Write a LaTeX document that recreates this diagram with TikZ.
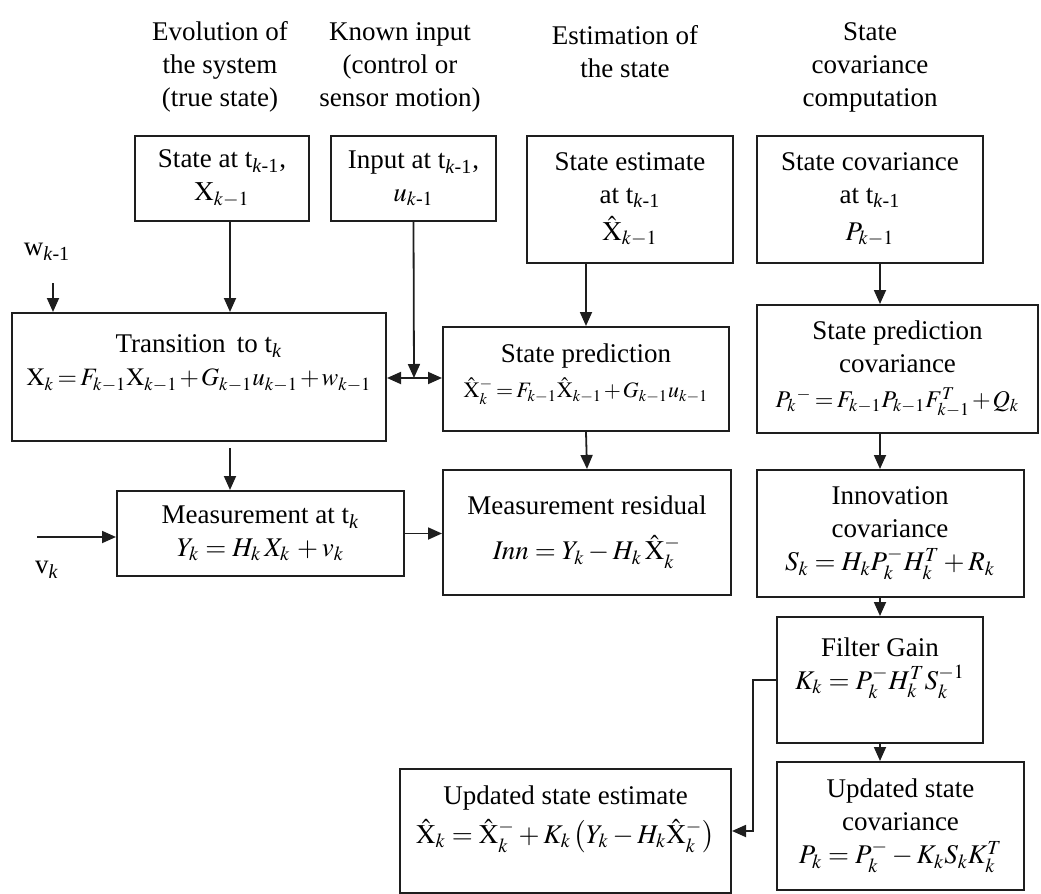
\documentclass[tikz,border=0pt]{standalone}
\usepackage{amsmath}
\usepackage{mathptmx}
\usepackage[no-math]{fontspec}
\setmainfont{Liberation Serif}
\usepackage{tikz}
\usetikzlibrary{arrows.meta}
\definecolor{kfedge}{RGB}{30,30,30}
\newcommand{\kffont}{\fontsize{13.5}{16.5}\selectfont}
\newcommand{\hX}{\hat{\mathrm{X}}}
\newcommand{\tk}[1]{t\textsubscript{#1}}
% tighter equations for the long ones
\newcommand{\kfeq}[2][12.5]{{\fontsize{#1}{16.5}\selectfont$\thickmuskip=2.5mu\medmuskip=1.5mu #2$}}
\tikzset{
  kfbox/.style={
    draw=kfedge, line width=1pt, align=center,
    inner sep=2pt, font=\kffont
  },
  arr/.style={-{Triangle[length=7pt,width=6pt]}, draw=kfedge, line width=0.9pt},
  head/.style={align=center, font=\kffont},
  anno/.style={font=\kffont},
  every picture/.append style={x=0.5pt, y=-0.5pt, line join=miter}
}

\begin{document}
\begin{tikzpicture}
  \useasboundingbox (0,0) rectangle (1041,894);
  % column headings
  \node[head] (hsys) at (220,67) {Evolution of\\the system\\(true state)};
  \node[head] (hinp) at (400,67) {Known input\\(control or\\sensor motion)};
  \node[head] (hest) at (625,52) {Estimation of\\the state};
  \node[head] (hcov) at (870,67) {State\\covariance\\computation};
  % top row
  \node[kfbox, minimum width=87pt, minimum height=42.5pt] (st) at (222,178.5)
    {State at \tk{\textit{k}-1},\\$\mathrm{X}_{k-1}$};
  \node[kfbox, minimum width=82.5pt, minimum height=42.5pt] (inp) at (413.5,178.5)
    {Input at \tk{\textit{k}-1},\\$u_{k\text{-}1}$};
  \node[kfbox, minimum width=103pt, minimum height=63.5pt] (est) at (630,199.5)
    {State estimate\\at \tk{\textit{k}-1}\\[2pt]$\hX_{k-1}$};
  \node[kfbox, minimum width=113pt, minimum height=63.5pt] (cov) at (870,199.5)
    {State covariance\\at \tk{\textit{k}-1}\\[2pt]$P_{k-1}$};
  % prediction
  \node[kfbox, minimum width=187pt, minimum height=64pt] (trans) at (199,377)
    {Transition\, to \tk{\textit{k}}\\\kfeq{\mathrm{X}_k = F_{k-1}\mathrm{X}_{k-1} + G_{k-1}u_{k-1} + w_{k-1}}\\~};
  \node[kfbox, minimum width=143pt, minimum height=52pt] (pred) at (586,379)
    {State prediction\\[1pt]\kfeq[11]{\hX_k^- = F_{k-1}\hX_{k-1} + G_{k-1}u_{k-1}}\\[-8pt]~};
  \node[kfbox, minimum width=140.5pt, minimum height=64pt] (pcov) at (897.5,369)
    {State prediction\\covariance\\[1pt]\kfeq[12]{{P_k}^{-} = F_{k-1}P_{k-1}F_{k-1}^{T} + Q_k}};
  % measurement
  \node[kfbox, minimum width=143.5pt, minimum height=42.5pt] (meas) at (260.5,533.5)
    {Measurement at \tk{\textit{k}}\\$Y_k = H_k\,X_k\, + v_k$};
  \node[kfbox, minimum width=144pt, minimum height=62.5pt] (res) at (587,532.5)
    {Measurement residual\\[6pt]$\mathit{Inn} = Y_k - H_k\,{\hX_k}^{-}$};
  \node[kfbox, minimum width=133.5pt, minimum height=63.5pt] (innov) at (890,533.5)
    {Innovation\\covariance\\$S_k = H_k P_k^{-} H_k^{T} + R_k$};
  % update
  \node[kfbox, minimum width=103pt, minimum height=63pt] (gain) at (880,680)
    {Filter Gain\\$K_k = P_k^{-} H_k^{T} S_k^{-1}$\\~};
  \node[kfbox, minimum width=123.5pt, minimum height=64pt] (ucov) at (900.5,826)
    {Updated state\\covariance\\$P_k = P_k^{-} - K_k S_k K_k^{T}$};
  \node[kfbox, minimum width=165.5pt, minimum height=62pt] (uest) at (565.5,831)
    {Updated state estimate\\[3pt]$\hX_k = \hX_k^{-} + K_k\left(Y_k - H_k\hX_k^{-}\right)$\\~};
  % noise inputs
  \node[anno] (wlbl) at (47,252) {w\textsubscript{\textit{k}-1}};
  \node[anno] (vlbl) at (47,570) {v\textsubscript{\textit{k}}};
  \coordinate (wk) at (53,283);
  \coordinate (vk) at (37,537);
  \coordinate (jn) at (414,378);
  \coordinate (lcol) at (230,0);
  \coordinate (rcol) at (880,0);
  % connectors
  \draw[arr] (wk) -- (wk |- trans.north);
  \draw[arr] (st.south -| lcol) -- (trans.north -| lcol);
  \draw[arr] (inp.south) -- (jn);
  \draw[arr] (jn) -- (jn -| trans.east);
  \draw[arr] (jn) -- (jn -| pred.west);
  \draw[arr] (est.south -| pred.north) -- (pred.north);
  \draw[arr] (cov.south -| rcol) -- (pcov.north -| rcol);
  \draw[arr, shorten <=3pt] (trans.south -| lcol) -- (meas.north -| lcol);
  \draw[arr] (vk) -- (vk -| meas.west);
  \draw[arr] (meas.east) -- (meas.east -| res.west);
  \draw[arr] (pred.south) -- (res.north);
  \draw[arr] (pcov.south -| rcol) -- (innov.north -| rcol);
  \draw[arr] (innov.south -| rcol) -- (gain.north);
  \draw[arr] (gain.south) -- (gain.south |- ucov.north);
  \draw[arr] (gain.west) -- ++(-23,0) |- (uest.east);
\end{tikzpicture}
\end{document}
